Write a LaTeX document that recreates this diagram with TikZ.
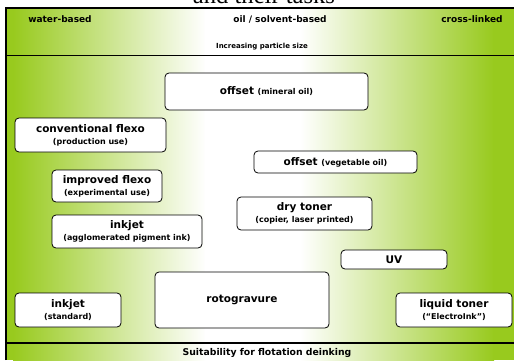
\documentclass[tikz,border=0pt]{standalone}
\usepackage{fontspec}
\setmainfont{Liberation Serif}
\setsansfont{DejaVu Sans}
\usepackage{tikz}
\definecolor{leafgreen}{RGB}{152,202,30}
\newcommand{\inkname}{\fontsize{10.5}{12}\sffamily\bfseries\selectfont}
\newcommand{\inknote}{\fontsize{8}{10}\sffamily\bfseries\selectfont}

\begin{document}
\begin{tikzpicture}[x=1pt, y=1pt,
  inkbox/.style={draw, fill=white, line width=0.8pt, rounded corners=4pt,
    align=center, inner sep=0pt},
  headlabel/.style={inner sep=0pt, font=\fontsize{9}{10}\sffamily\bfseries\selectfont}]
\useasboundingbox (0,0) rectangle (514,360);
\clip (0,0) rectangle (514,360);
\coordinate (tl) at (6,352);
\coordinate (tr) at (514,352);
\coordinate (bl) at (6,0);

\fill[leafgreen] (6,0) rectangle (14,352);
\shade[left color=leafgreen, right color=white] (13,0) rectangle (206,352);
\fill[white] (205,0) rectangle (301,352);
\shade[left color=white, right color=leafgreen] (300,0) rectangle (494,352);
\fill[leafgreen] (493,0) rectangle (514,352);

\draw[line width=1.2pt] (bl) -- (tl) -- (tr);
\draw[line width=1pt] (6,305) -- (514,305);
\draw[line width=2pt] (6,17) -- (514,17);

\node[anchor=base, inner sep=0pt, font=\fontsize{24.6}{28}\selectfont] (title) at (264,356) {and their tasks};

\node[headlabel] (water) at (60,341) {water-based};
\node[headlabel] (oil) at (280,341) {oil / solvent-based};
\node[headlabel] (cross) at (472,341) {cross-linked};
\node[inner sep=0pt, font=\fontsize{7}{8}\sffamily\bfseries\selectfont] (size) at (262,313) {Increasing particle size};
\node[headlabel, font=\fontsize{9.3}{10}\sffamily\bfseries\selectfont] (flot) at (267,7) {Suitability for flotation deinking};

\node[inkbox, minimum width=203, minimum height=37] (offmin) at (266.5,268.5)
  {\inkname offset \inknote(mineral oil)};
\node[inkbox, minimum width=151, minimum height=34] (convflexo) at (90.5,225)
  {\inkname conventional flexo\\ \inknote(production use)};
\node[inkbox, minimum width=110, minimum height=32] (impflexo) at (107,174)
  {\inkname improved flexo\\ \inknote(experimental use)};
\node[inkbox, minimum width=163, minimum height=22] (offveg) at (335.5,198)
  {\inkname offset \inknote(vegetable oil)};
\node[inkbox, minimum width=135, minimum height=33] (drytoner) at (304.5,146.5)
  {\inkname dry toner\\ \inknote(copier, laser printed)};
\node[inkbox, minimum width=150, minimum height=33] (inkagg) at (127,128.5)
  {\inkname inkjet\\ \inknote(agglomerated pigment ink)};
\node[inkbox, minimum width=106, minimum height=19] (uv) at (394,100.5)
  {\inkname UV};
\node[inkbox, minimum width=174, minimum height=56] (roto) at (242,60)
  {\inkname rotogravure};
\node[inkbox, minimum width=106, minimum height=34] (inkstd) at (68,50)
  {\inkname inkjet\\ \inknote(standard)};
\node[inkbox, minimum width=116, minimum height=34] (liquid) at (454,50)
  {\inkname liquid toner\\ \inknote(``ElectroInk'')};
\end{tikzpicture}
\end{document}
